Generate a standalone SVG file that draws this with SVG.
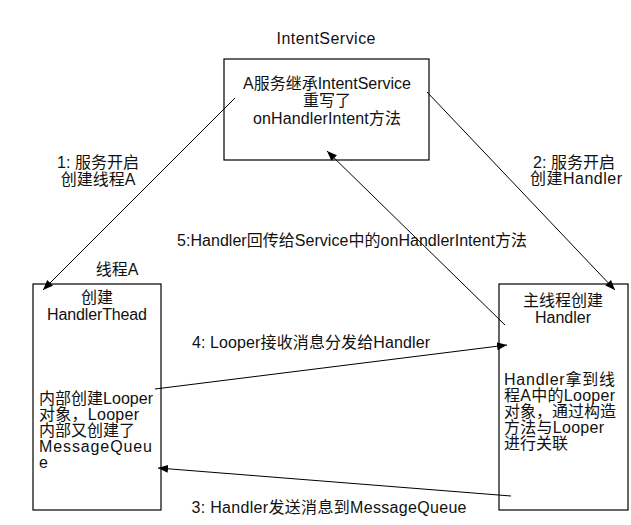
<svg xmlns="http://www.w3.org/2000/svg" width="631" height="525" viewBox="0 0 631 525">
<style>
text{font-family:"Liberation Sans","Noto Sans CJK SC",sans-serif;font-size:16px;fill:#111}
.c{text-anchor:middle}
.box{fill:#fff;stroke:#000;stroke-width:1.2}
.ln{stroke:#000;stroke-width:1;fill:none;marker-end:url(#ah)}
</style>
<defs>
<marker id="ah" viewBox="0 0 10 10" refX="10" refY="5" markerWidth="10" markerHeight="10" markerUnits="userSpaceOnUse" orient="auto">
<path d="M0,1 L10,5 L0,9 z" fill="#000"/>
</marker>
</defs>
<rect width="631" height="525" fill="#fff"/>
<g id="intentservice">
<text class="c" x="326" y="44" textLength="99">IntentService</text>
<rect class="box" x="224" y="59" width="205" height="101"/>
<text class="c" x="327" y="89" textLength="168">A服务继承IntentService</text>
<text class="c" x="327" y="106">重写了</text>
<text class="c" x="327" y="124" textLength="148">onHandlerIntent方法</text>
</g>
<g id="threadA">
<text class="c" x="117" y="275">线程A</text>
<rect class="box" x="33" y="284" width="128" height="226"/>
<text class="c" x="97" y="303">创建</text>
<text class="c" x="97" y="320" textLength="100">HandlerThead</text>
<text x="39" y="404" textLength="114">内部创建Looper</text>
<text x="39" y="420" textLength="100">对象，Looper</text>
<text x="39" y="436">内部又创建了</text>
<text x="39" y="452" textLength="113">MessageQueu</text>
<text x="39" y="468">e</text>
</g>
<g id="mainHandler">
<rect class="box" x="499" y="284" width="129" height="226"/>
<text class="c" x="563" y="306">主线程创建</text>
<text class="c" x="563" y="323">Handler</text>
<text x="504" y="385" textLength="111">Handler拿到线</text>
<text x="504" y="401" textLength="111">程A中的Looper</text>
<text x="504" y="417">对象，通过构造</text>
<text x="504" y="433" textLength="100">方法与Looper</text>
<text x="504" y="449">进行关联</text>
</g>
<g id="connectors">
<line class="ln" x1="235" y1="98" x2="43" y2="290"/>
<line class="ln" x1="427" y1="92" x2="615" y2="290"/>
<line class="ln" x1="505" y1="325" x2="327" y2="151"/>
<line class="ln" x1="155" y1="389" x2="507" y2="345"/>
<line class="ln" x1="511" y1="496" x2="158" y2="468"/>
<text class="c" x="98" y="168">1: 服务开启</text>
<text class="c" x="98" y="185">创建线程A</text>
<text class="c" x="574" y="168">2: 服务开启</text>
<text class="c" x="576" y="184" textLength="92">创建Handler</text>
<text class="c" x="352" y="246" textLength="350">5:Handler回传给Service中的onHandlerIntent方法</text>
<text class="c" x="311" y="348" textLength="238">4: Looper接收消息分发给Handler</text>
<text class="c" x="329" y="513" textLength="275">3: Handler发送消息到MessageQueue</text>
</g>
</svg>
